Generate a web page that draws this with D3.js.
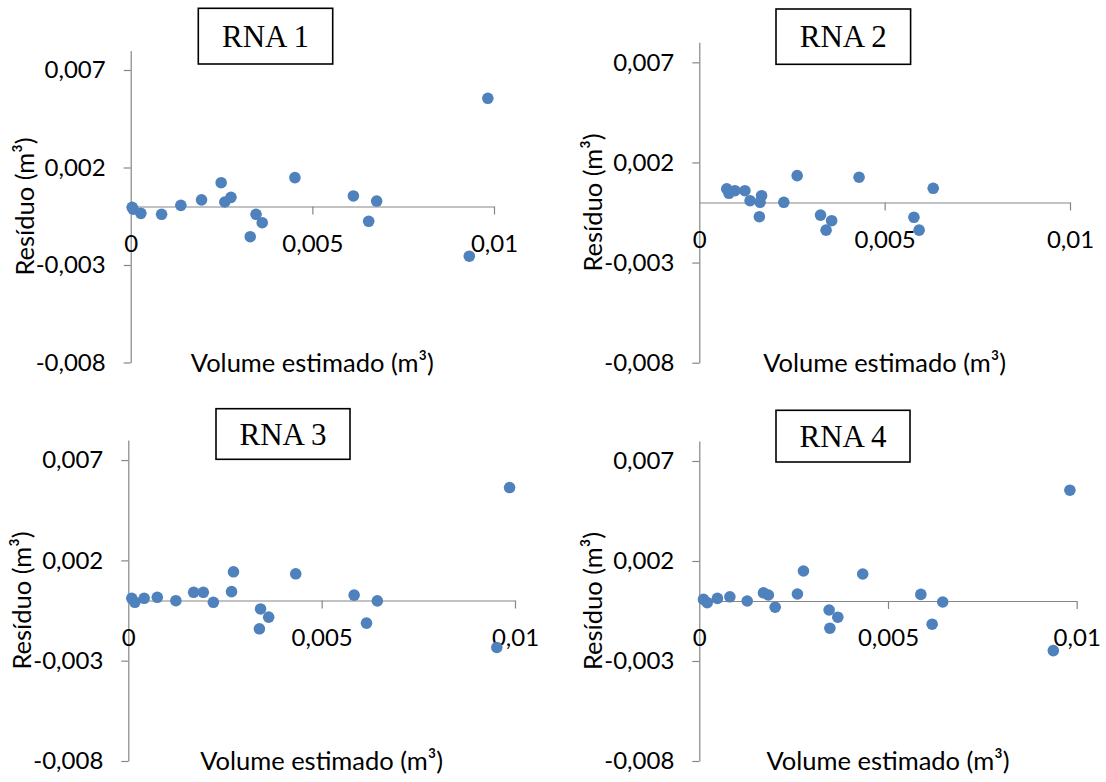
<!DOCTYPE html>
<html>
<head>
<meta charset="utf-8">
<script src="https://cdn.jsdelivr.net/npm/d3@7"></script>
<style>
  body { margin: 0; background: #fff; }
  svg { display: block; }
</style>
</head>
<body>
<svg id="chart" width="1106" height="782"></svg>
<script>
var panelTitles = ["RNA 1", "RNA 2", "RNA 3", "RNA 4"];
var xTicks = [0, 0.005, 0.01];
var yTicks = [-0.008, -0.003, 0.002, 0.007];
var xDomain = [0, 0.01];
var yDomain = [-0.008, 0.008];
var xTitle = "Volume estimado (m³)";
var yTitle = "Resíduo (m³)";

var rna1Volume = [0.00004, 0.00007, 0.00028, 0.00085, 0.00138, 0.00195, 0.00249, 0.00259, 0.00276, 0.00345, 0.00362, 0.00329, 0.00452, 0.00613, 0.00677, 0.00655, 0.00932, 0.00983];
var rna1Residuo = [-0.00004, -0.00014, -0.00035, -0.0004, 0.00006, 0.00034, 0.00122, 0.00023, 0.00047, -0.0004, -0.00083, -0.00155, 0.00148, 0.00054, 0.00028, -0.00076, -0.00255, 0.00555];

var rna2Volume = [0.00074, 0.0008, 0.00096, 0.00123, 0.00137, 0.00168, 0.00164, 0.00162, 0.00228, 0.00264, 0.00327, 0.00357, 0.00342, 0.00431, 0.00579, 0.00593, 0.00631];
var rna2Residuo = [0.00068, 0.00046, 0.00059, 0.00059, 0.00009, 0.00034, 0.00001, -0.00071, 0.00001, 0.00134, -0.00063, -0.00091, -0.00138, 0.00126, -0.00074, -0.00138, 0.00071];

var rna3Volume = [0.00009, 0.00017, 0.00041, 0.00075, 0.00123, 0.00169, 0.00194, 0.0022, 0.00267, 0.00272, 0.00342, 0.00363, 0.00339, 0.00433, 0.00584, 0.00644, 0.00616, 0.00953, 0.00986];
var rna3Residuo = [0.00011, -0.00009, 0.00011, 0.00016, -0.00001, 0.00041, 0.00041, -0.00009, 0.00044, 0.00143, -0.00042, -0.00083, -0.00141, 0.00133, 0.00027, -0.00002, -0.00113, -0.00234, 0.00563];

var rna4Volume = [0.00011, 0.00021, 0.00048, 0.00081, 0.00127, 0.0017, 0.00183, 0.00201, 0.0026, 0.00276, 0.00344, 0.00367, 0.00346, 0.00433, 0.00587, 0.00645, 0.00617, 0.00938, 0.00982];
var rna4Residuo = [0.00008, -0.00008, 0.00013, 0.00021, 0, 0.00041, 0.0003, -0.00031, 0.00035, 0.0015, -0.00045, -0.00081, -0.00136, 0.00135, 0.00033, -0.00005, -0.00116, -0.00248, 0.00554];

var series = [
  [rna1Volume, rna1Residuo],
  [rna2Volume, rna2Residuo],
  [rna3Volume, rna3Residuo],
  [rna4Volume, rna4Residuo]
];

// plot area and title box of each panel, in pixels
var layout = [
  { x0: 130.7, x1: 494, top: 50.5, bottom: 362.5, box: [198.3, 8.3, 134.4, 55.7] },
  { x0: 699.3, x1: 1070, top: 42.3, bottom: 362.7, box: [776, 9, 134.6, 55.3] },
  { x0: 128.3, x1: 515, top: 440, bottom: 761, box: [216, 408.7, 134, 50.6] },
  { x0: 699.3, x1: 1076.7, top: 441, bottom: 761, box: [776, 410.3, 134, 51.7] }
];

var fontSans = "Lato, 'Open Sans', sans-serif";
var axisColor = "#868686";
var dotColor = "#4F81BD";

var locale = d3.formatLocale({ decimal: ",", thousands: ".", grouping: [3], currency: ["", ""], minus: "-" });
var fmt = locale.format("~g");

var svg = d3.select("#chart");
svg.append("rect").attr("width", 1106).attr("height", 782).attr("fill", "#fff");

series.forEach(function(s, i) {
  var L = layout[i];
  var xScale = d3.scaleLinear().domain(xDomain).range([L.x0, L.x1]);
  var yScale = d3.scaleLinear().domain(yDomain).range([L.bottom, L.top]);
  var g = svg.append("g");

  var yAxis = d3.axisLeft(yScale)
    .tickValues(yTicks)
    .tickFormat(fmt)
    .tickSizeInner(7)
    .tickSizeOuter(0)
    .tickPadding(18);

  var xAxis = d3.axisBottom(xScale)
    .tickValues(xTicks)
    .tickFormat(fmt)
    .tickSizeInner(8)
    .tickSizeOuter(0)
    .tickPadding(20);

  var ya = g.append("g")
    .attr("transform", "translate(" + L.x0 + ",0)")
    .call(yAxis);

  var xa = g.append("g")
    .attr("transform", "translate(0," + yScale(0) + ")")
    .call(xAxis);

  [ya, xa].forEach(function(a) {
    a.select(".domain").attr("stroke", axisColor).attr("stroke-width", 1.2);
    a.selectAll(".tick line").attr("stroke", axisColor).attr("stroke-width", 1.2);
    a.selectAll(".tick text")
      .attr("fill", "#000")
      .style("font-family", fontSans)
      .style("font-size", "24px");
  });
  xa.selectAll(".tick").filter(function(d) { return d === 0; }).select("line").remove();

  g.append("g")
    .selectAll("circle")
    .data(s[0])
    .enter()
    .append("circle")
    .attr("cx", function(d) { return xScale(d); })
    .attr("cy", function(d, j) { return yScale(s[1][j]); })
    .attr("r", 5.8)
    .attr("fill", dotColor);

  g.append("text")
    .attr("x", (L.x0 + L.x1) / 2)
    .attr("y", L.bottom + 9)
    .attr("text-anchor", "middle")
    .style("font-family", fontSans)
    .style("font-size", "25.5px")
    .text(xTitle);

  g.append("text")
    .attr("transform", "translate(" + (L.x0 - 97) + "," + ((L.top + L.bottom) / 2) + ") rotate(-90)")
    .attr("text-anchor", "middle")
    .style("font-family", fontSans)
    .style("font-size", "25.5px")
    .text(yTitle);

  var b = L.box;
  g.append("rect")
    .attr("x", b[0])
    .attr("y", b[1])
    .attr("width", b[2])
    .attr("height", b[3])
    .attr("fill", "#fff")
    .attr("stroke", "#000")
    .attr("stroke-width", 1.6);

  g.append("text")
    .attr("x", b[0] + b[2] / 2)
    .attr("y", b[1] + b[3] / 2 + 10.5)
    .attr("text-anchor", "middle")
    .style("font-family", "'Liberation Serif', 'Times New Roman', serif")
    .style("font-size", "31px")
    .text(panelTitles[i]);
});
</script>
</body>
</html>
